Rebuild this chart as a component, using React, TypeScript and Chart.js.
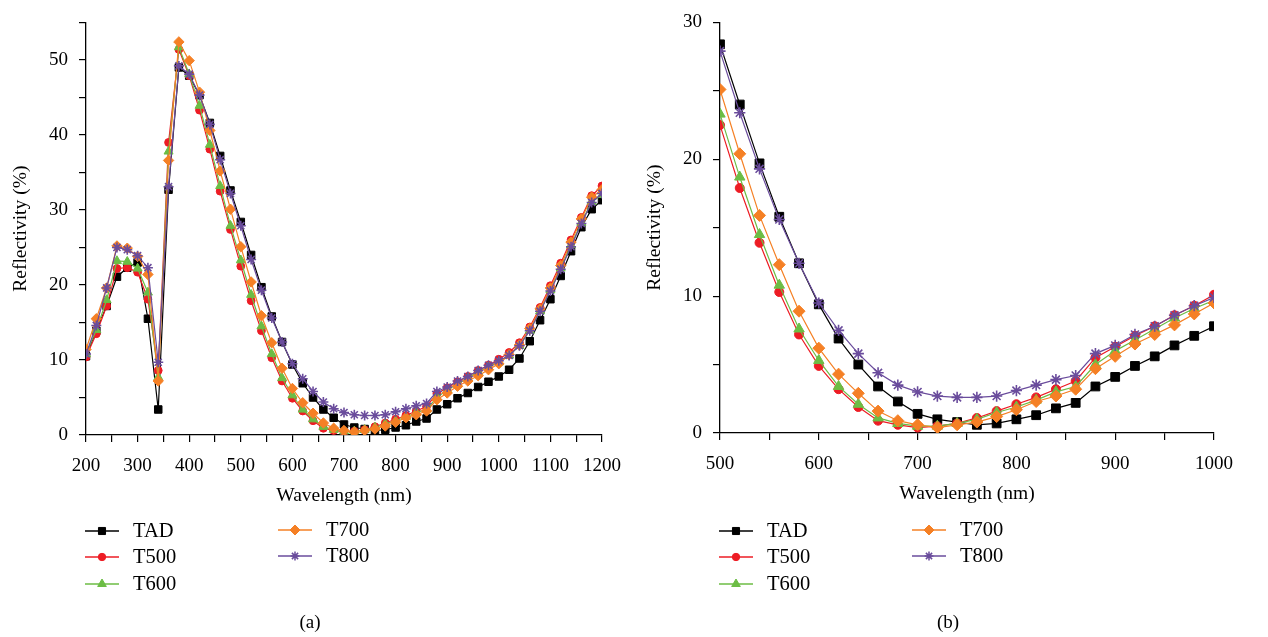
import React, { useEffect, useRef } from "react";
import { Chart, registerables } from "chart.js";
import { drawPoint } from "chart.js/helpers";

Chart.register(...registerables);

// ---------- data ----------
const WAVELENGTH = [
  200, 220, 240, 260, 280, 300, 320, 340, 360, 380, 400, 420, 440, 460, 480,
  500, 520, 540, 560, 580, 600, 620, 640, 660, 680, 700, 720, 740, 760, 780,
  800, 820, 840, 860, 880, 900, 920, 940, 960, 980, 1000, 1020, 1040, 1060,
  1080, 1100, 1120, 1140, 1160, 1180, 1200,
];

const TAD = [
  10.5, 13.9, 17.2, 21.1, 22.3, 23.0, 15.5, 3.4, 32.7, 49.0, 47.9, 45.3, 41.6, 37.2, 32.6,
  28.4, 24.0, 19.7, 15.8, 12.4, 9.4, 6.9, 5.0, 3.4, 2.3, 1.4, 1.0, 0.8, 0.6, 0.7,
  1.0, 1.3, 1.8, 2.2, 3.4, 4.1, 4.9, 5.6, 6.4, 7.1, 7.8,
  8.7, 10.2, 12.5, 15.3, 18.1, 21.2, 24.5, 27.7, 30.1, 31.3,
];

const T500 = [
  10.4, 13.5, 17.2, 22.2, 22.3, 21.7, 18.1, 8.6, 39.0, 51.4, 47.9, 43.3, 38.1, 32.5, 27.4,
  22.5, 17.9, 13.9, 10.3, 7.2, 4.9, 3.2, 1.9, 0.9, 0.6, 0.4, 0.5, 0.7, 1.1, 1.6,
  2.1, 2.6, 3.2, 3.8, 5.5, 6.3, 7.1, 7.8, 8.6, 9.3, 10.1,
  11.0, 12.3, 14.4, 17.0, 19.9, 22.9, 26.0, 29.0, 31.9, 33.2,
];

const T600 = [
  10.8, 14.0, 18.0, 23.2, 23.1, 22.2, 19.0, 7.7, 37.8, 51.7, 48.1, 43.9, 38.7, 33.2, 27.9,
  23.3, 18.7, 14.5, 10.8, 7.6, 5.3, 3.4, 2.1, 1.1, 0.7, 0.5, 0.5, 0.7, 1.0, 1.5,
  1.9, 2.4, 3.0, 3.4, 5.0, 6.0, 6.8, 7.6, 8.4, 9.1, 9.7,
  10.6, 11.9, 13.9, 16.5, 19.3, 22.2, 25.3, 28.3, 31.1, 32.0,
];

const T700 = [
  11.4, 15.5, 19.6, 25.2, 24.9, 23.8, 21.4, 7.2, 36.6, 52.4, 49.9, 45.7, 40.6, 35.2, 30.1,
  25.1, 20.4, 15.9, 12.3, 8.9, 6.2, 4.3, 2.9, 1.6, 0.9, 0.6, 0.4, 0.6, 0.8, 1.2,
  1.7, 2.3, 2.7, 3.2, 4.7, 5.6, 6.5, 7.2, 7.9, 8.7, 9.5,
  10.7, 12.0, 14.2, 16.8, 19.6, 22.6, 25.7, 28.8, 31.7, 32.7,
];

const T800 = [
  10.8, 14.6, 19.6, 25.0, 24.7, 23.9, 22.3, 9.7, 33.1, 49.2, 48.1, 45.3, 41.4, 36.7, 32.2,
  27.9, 23.4, 19.3, 15.6, 12.4, 9.5, 7.5, 5.8, 4.4, 3.5, 3.0, 2.7, 2.6, 2.6, 2.7,
  3.1, 3.5, 3.9, 4.2, 5.8, 6.4, 7.2, 7.8, 8.6, 9.3, 9.9,
  10.6, 11.9, 13.9, 16.5, 19.2, 22.1, 25.1, 28.2, 31.0, 32.2,
];

const SERIES_NAMES = ["TAD", "T500", "T600", "T700", "T800"];
const SERIES_VALUES = [TAD, T500, T600, T700, T800];

const X_TITLE = "Wavelength (nm)";
const Y_TITLE = "Reflectivity (%)";

// ---------- styles ----------
const FONT = "'Liberation Serif', 'Times New Roman', serif";
const COLORS = ["#000000", "#ed1c24", "#6cbd45", "#f58025", "#6a4c9c"];
const STYLES = ["rect", "circle", "triangle", "rectRot", "star"];
const RADII_A = [5.3, 3.9, 5.2, 5.2, 5.0];
const RADII_B = [6.2, 4.5, 6.0, 6.0, 5.6];
const LEGEND_RADII = [5.0, 3.7, 5.0, 5.0, 4.4];

const legendPlugin = {
  id: "customLegend",
  afterDraw(chart: any, _args: any, opts: any) {
    const ctx = chart.ctx as CanvasRenderingContext2D;
    ctx.save();
    const cols = [
      { lx: 85, tx: 133 },
      { lx: 278, tx: 326 },
    ];
    const rows = [531, 557, 584];
    SERIES_NAMES.forEach((name, i) => {
      const col = i < 3 ? cols[0] : cols[1];
      const y = i < 3 ? rows[i] : rows[i - 3] - 1;
      ctx.strokeStyle = COLORS[i];
      ctx.lineWidth = 1.5;
      ctx.beginPath();
      ctx.moveTo(col.lx, y);
      ctx.lineTo(col.lx + 34, y);
      ctx.stroke();
      ctx.fillStyle = COLORS[i];
      ctx.strokeStyle = COLORS[i];
      ctx.lineWidth = STYLES[i] === "star" ? 1.5 : 1;
      drawPoint(
        ctx,
        { pointStyle: STYLES[i], radius: LEGEND_RADII[i], rotation: 0, borderWidth: ctx.lineWidth } as any,
        col.lx + 17,
        y
      );
      ctx.fillStyle = "#000";
      ctx.font = `20.5px ${FONT}`;
      ctx.textAlign = "left";
      ctx.textBaseline = "middle";
      ctx.fillText(name, col.tx, y + 1);
    });
    ctx.font = `19px ${FONT}`;
    ctx.textAlign = "center";
    ctx.textBaseline = "middle";
    ctx.fillStyle = "#000";
    ctx.fillText(opts.caption, opts.cx, 623);
    ctx.restore();
  },
};

function makeConfig(
  xMin: number,
  xMax: number,
  yMax: number,
  radii: number[],
  padding: any,
  caption: string,
  cx: number
) {
  const datasets = SERIES_NAMES.map((name, i) => ({
    label: name,
    data: WAVELENGTH.map((w, k) => ({ x: w, y: SERIES_VALUES[i][k] })),
    borderColor: COLORS[i],
    backgroundColor: COLORS[i],
    pointBackgroundColor: COLORS[i],
    pointBorderColor: COLORS[i],
    pointStyle: STYLES[i],
    pointRadius: radii[i],
    pointBorderWidth: STYLES[i] === "star" ? 1.6 : 1,
    borderWidth: 1.2,
    tension: 0,
    clip: 0,
    order: 4 - i,
  }));
  const tickFont = { family: FONT, size: 19 };
  const titleFont = { family: FONT, size: 19.5 };
  return {
    type: "line",
    data: { datasets },
    plugins: [legendPlugin],
    options: {
      animation: false,
      responsive: false,
      devicePixelRatio: 1,
      layout: { padding },
      plugins: {
        legend: { display: false },
        tooltip: { enabled: false },
        customLegend: { caption, cx },
      },
      scales: {
        x: {
          type: "linear",
          min: xMin,
          max: xMax,
          afterFit: (s: any) => {
            s.height = 76;
          },
          ticks: {
            stepSize: 50,
            autoSkip: false,
            maxRotation: 0,
            padding: 13,
            color: "#000",
            font: tickFont,
            callback: (v: number) => (v % 100 === 0 ? String(v) : ""),
          },
          grid: {
            display: true,
            drawOnChartArea: false,
            drawTicks: true,
            tickLength: 7,
            color: "#000",
            lineWidth: 1.2,
          },
          border: { display: true, color: "#000", width: 1.3 },
          title: {
            display: true,
            text: X_TITLE,
            color: "#000",
            font: titleFont,
            padding: { top: 0, bottom: 3 },
          },
        },
        y: {
          type: "linear",
          min: 0,
          max: yMax,
          afterFit: (s: any) => {
            s.width = 86;
          },
          ticks: {
            stepSize: 5,
            autoSkip: false,
            padding: 11,
            color: "#000",
            font: tickFont,
            callback: (v: number) => (v % 10 === 0 ? String(v) : ""),
          },
          grid: {
            display: true,
            drawOnChartArea: false,
            drawTicks: true,
            tickLength: 7,
            color: "#000",
            lineWidth: 1.2,
          },
          border: { display: true, color: "#000", width: 1.3 },
          title: {
            display: true,
            text: Y_TITLE,
            color: "#000",
            font: titleFont,
            padding: { top: 9, bottom: 0 },
          },
        },
      },
    },
  };
}

function ChartPanel(props: { config: any; left: number }) {
  const ref = useRef<HTMLCanvasElement>(null);
  useEffect(() => {
    if (!ref.current) return;
    const chart = new Chart(ref.current, props.config);
    return () => chart.destroy();
  }, []);
  return (
    <canvas
      ref={ref}
      width={634}
      height={637}
      style={{ position: "absolute", left: props.left, top: 0, width: 634, height: 637, display: "block" }}
    />
  );
}

export default function App() {
  useEffect(() => {
    document.body.style.margin = "0";
    document.body.style.background = "#fff";
  }, []);
  const cfgA = makeConfig(200, 1200, 55, RADII_A, { left: 0, right: 32, top: 20, bottom: 126 }, "(a)", 310);
  const cfgB = makeConfig(500, 1000, 30, RADII_B, { left: 0, right: 54, top: 16, bottom: 128 }, "(b)", 314);
  return (
    <div style={{ position: "relative", width: 1268, height: 637, background: "#fff", overflow: "hidden" }}>
      <ChartPanel config={cfgA} left={0} />
      <ChartPanel config={cfgB} left={634} />
    </div>
  );
}
